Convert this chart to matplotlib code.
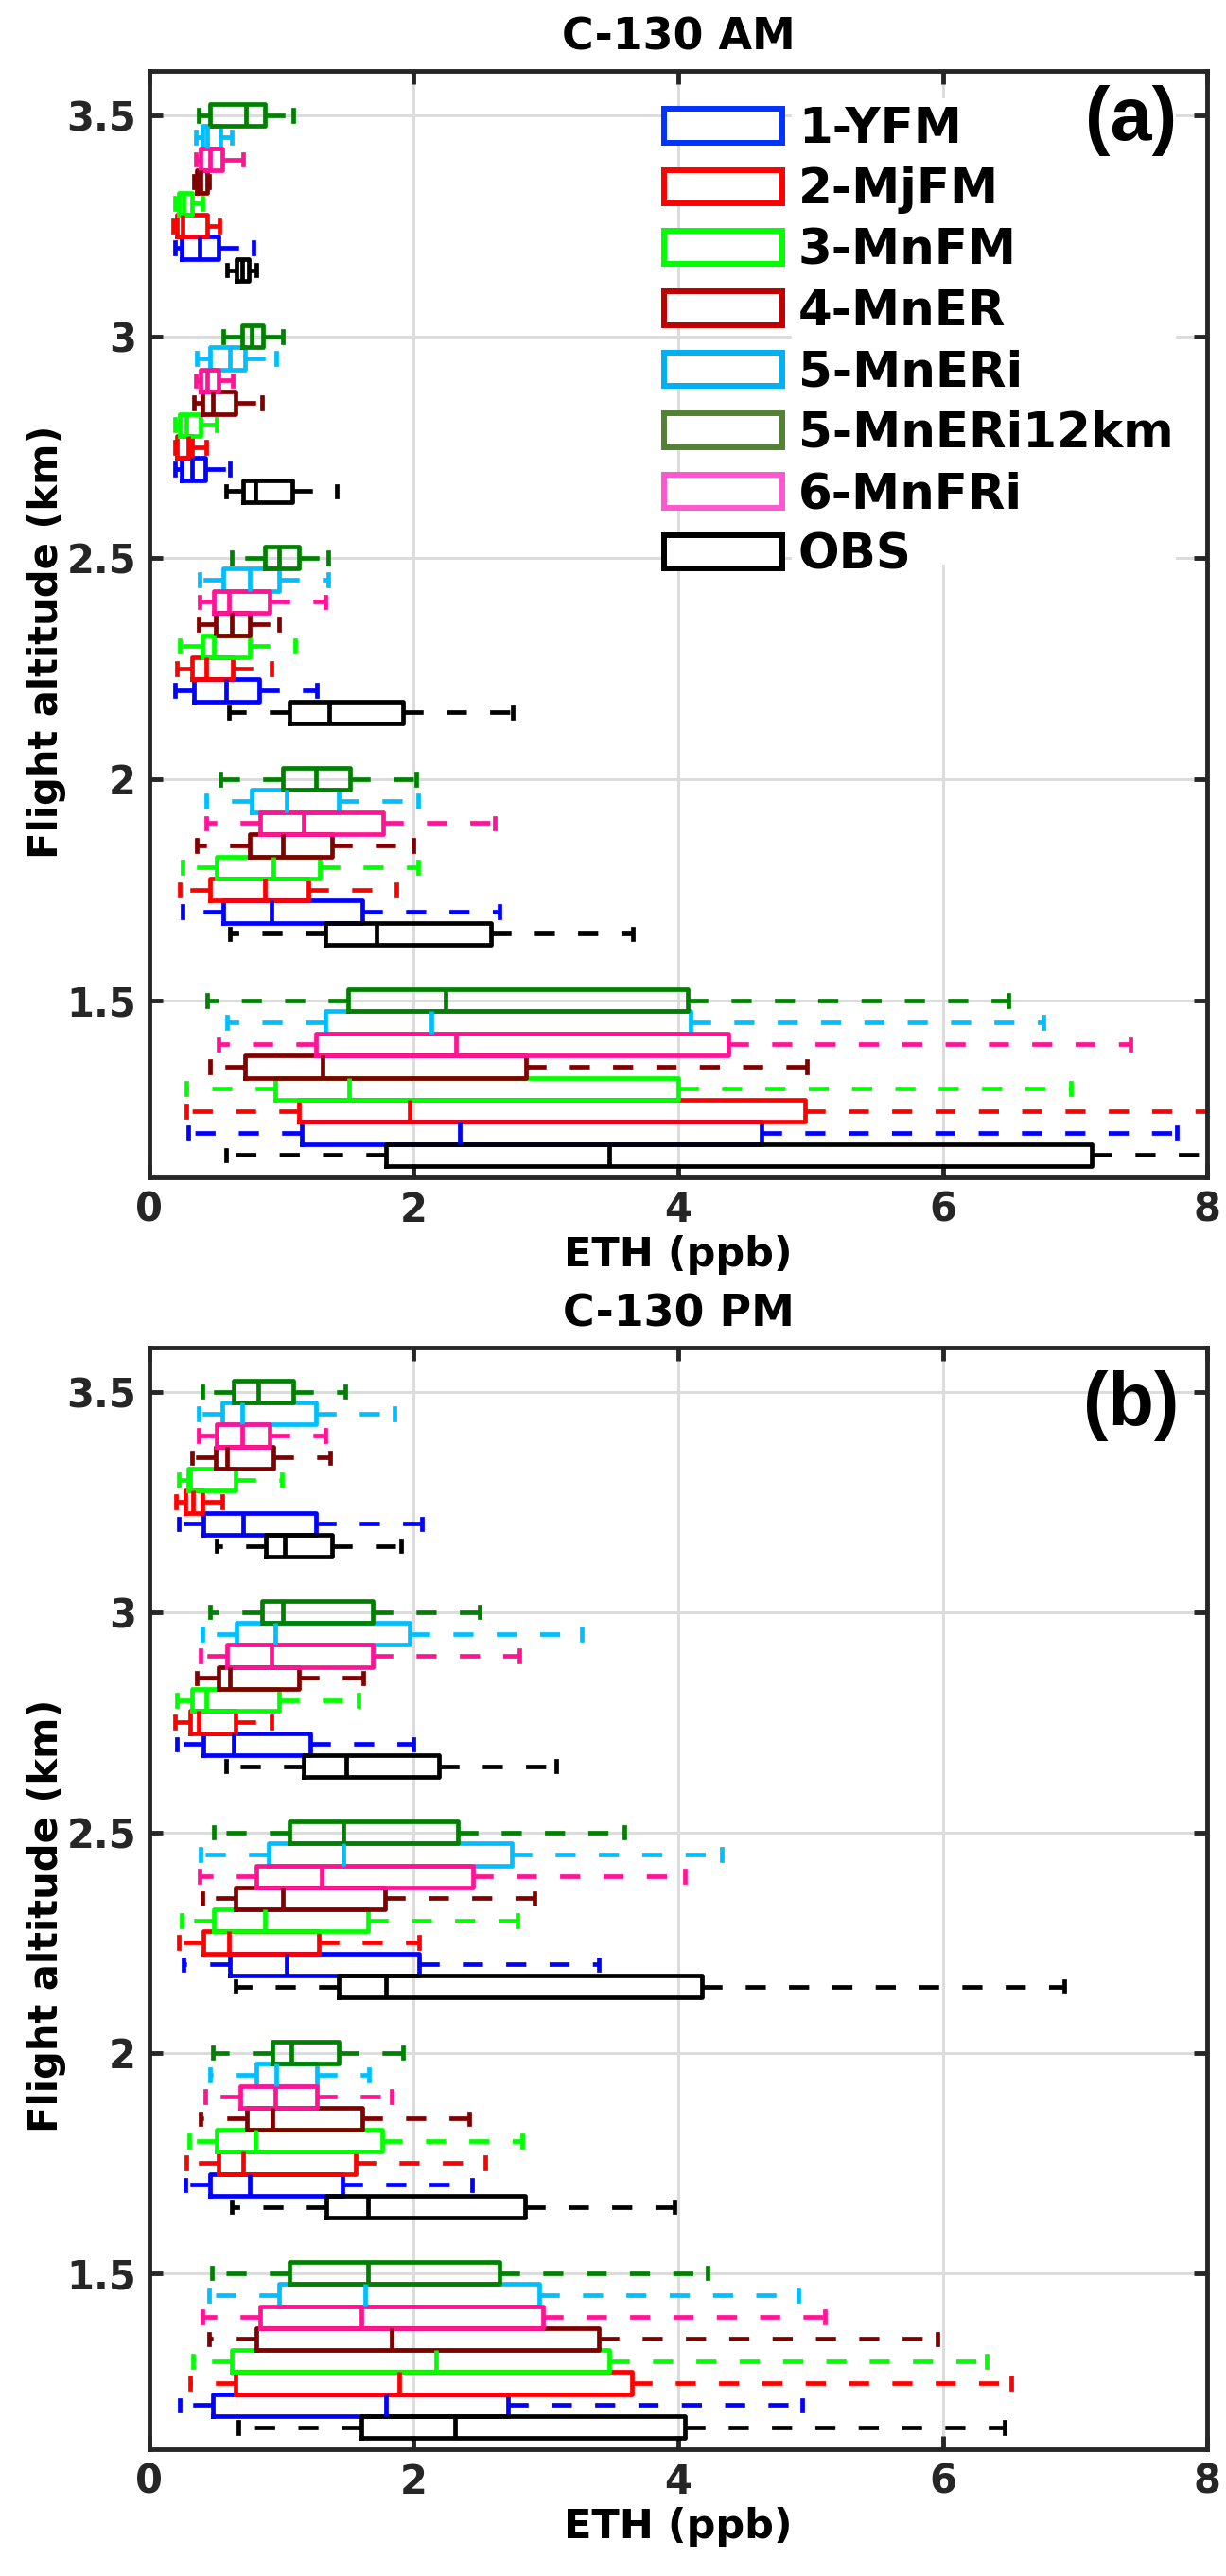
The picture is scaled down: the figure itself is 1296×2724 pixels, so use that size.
import matplotlib
matplotlib.use("Agg")
import matplotlib.pyplot as plt
from matplotlib.patches import Patch, Rectangle

# ---------------- data ----------------
models = ["1-YFM", "2-MjFM", "3-MnFM", "4-MnER", "5-MnERi", "5-MnERi12km", "6-MnFRi", "OBS"]
altitudes = [1.5, 2.0, 2.5, 3.0, 3.5]
xticks = [0, 2, 4, 6, 8]
yticks = [1.5, 2, 2.5, 3, 3.5]
ytick_labels = ["1.5", "2", "2.5", "3", "3.5"]

# AM (panel a): rows = models, columns = altitudes
am_lo = [[0.29, 0.25, 0.19, 0.19, 0.19],
         [0.28, 0.23, 0.21, 0.19, 0.18],
         [0.28, 0.25, 0.23, 0.19, 0.19],
         [0.46, 0.36, 0.37, 0.34, 0.34],
         [0.59, 0.43, 0.38, 0.36, 0.35],
         [0.44, 0.54, 0.62, 0.56, 0.37],
         [0.52, 0.43, 0.38, 0.35, 0.35],
         [0.58, 0.61, 0.60, 0.58, 0.59]]
am_q1 = [[1.15, 0.56, 0.34, 0.24, 0.24],
         [1.13, 0.46, 0.32, 0.21, 0.21],
         [0.95, 0.51, 0.40, 0.23, 0.22],
         [0.72, 0.76, 0.50, 0.40, 0.36],
         [1.33, 0.77, 0.56, 0.46, 0.40],
         [1.50, 1.01, 0.87, 0.70, 0.46],
         [1.26, 0.84, 0.49, 0.39, 0.39],
         [1.79, 1.33, 1.06, 0.71, 0.66]]
am_med = [[2.35, 0.92, 0.58, 0.32, 0.38],
          [1.97, 0.87, 0.43, 0.29, 0.25],
          [1.51, 0.94, 0.49, 0.28, 0.26],
          [1.31, 1.01, 0.62, 0.48, 0.39],
          [2.13, 1.04, 0.76, 0.61, 0.44],
          [2.24, 1.26, 0.98, 0.77, 0.73],
          [2.32, 1.17, 0.60, 0.44, 0.46],
          [3.48, 1.72, 1.36, 0.80, 0.70]]
am_q3 = [[4.63, 1.61, 0.83, 0.42, 0.52],
         [4.96, 1.20, 0.63, 0.32, 0.44],
         [4.00, 1.29, 0.76, 0.39, 0.32],
         [2.85, 1.38, 0.76, 0.65, 0.44],
         [4.09, 1.43, 0.98, 0.72, 0.54],
         [4.07, 1.52, 1.13, 0.86, 0.87],
         [4.38, 1.77, 0.91, 0.52, 0.55],
         [7.13, 2.58, 1.92, 1.08, 0.75]]
am_hi = [[7.77, 2.65, 1.27, 0.61, 0.79],
         [8.40, 1.87, 0.92, 0.43, 0.53],
         [6.97, 2.03, 1.10, 0.51, 0.40],
         [4.97, 2.00, 0.98, 0.85, 0.45],
         [6.76, 2.03, 1.35, 0.96, 0.62],
         [6.50, 2.02, 1.35, 1.01, 1.09],
         [7.42, 2.61, 1.33, 0.63, 0.71],
         [8.60, 3.66, 2.75, 1.42, 0.81]]

# PM (panel b)
pm_lo = [[0.23, 0.27, 0.26, 0.21, 0.22],
         [0.31, 0.28, 0.22, 0.19, 0.20],
         [0.33, 0.30, 0.24, 0.21, 0.22],
         [0.45, 0.39, 0.40, 0.36, 0.32],
         [0.45, 0.46, 0.39, 0.40, 0.37],
         [0.47, 0.48, 0.49, 0.46, 0.40],
         [0.40, 0.42, 0.38, 0.39, 0.37],
         [0.67, 0.62, 0.65, 0.58, 0.51]]
pm_q1 = [[0.48, 0.46, 0.61, 0.41, 0.41],
         [0.65, 0.52, 0.41, 0.31, 0.27],
         [0.62, 0.51, 0.49, 0.32, 0.29],
         [0.81, 0.74, 0.65, 0.52, 0.50],
         [0.98, 0.81, 0.90, 0.66, 0.55],
         [1.06, 0.93, 1.06, 0.85, 0.64],
         [0.84, 0.69, 0.81, 0.59, 0.51],
         [1.60, 1.34, 1.43, 1.17, 0.88]]
pm_med = [[1.79, 0.76, 1.04, 0.64, 0.71],
          [1.89, 0.71, 0.60, 0.37, 0.33],
          [2.17, 0.80, 0.87, 0.43, 0.31],
          [1.83, 0.93, 1.01, 0.61, 0.59],
          [1.63, 0.96, 1.47, 0.95, 0.70],
          [1.65, 1.07, 1.47, 1.01, 0.82],
          [1.60, 0.95, 1.30, 0.92, 0.70],
          [2.31, 1.65, 1.79, 1.49, 1.02]]
pm_q3 = [[2.71, 1.46, 2.04, 1.22, 1.26],
         [3.65, 1.56, 1.28, 0.65, 0.40],
         [3.48, 1.76, 1.65, 0.98, 0.65],
         [3.40, 1.61, 1.78, 1.13, 0.94],
         [2.95, 1.27, 2.74, 1.97, 1.26],
         [2.65, 1.43, 2.33, 1.69, 1.09],
         [2.98, 1.27, 2.45, 1.69, 0.91],
         [4.05, 2.84, 4.18, 2.19, 1.38]]
pm_hi = [[4.94, 2.44, 3.40, 2.00, 2.06],
         [6.52, 2.54, 2.04, 0.92, 0.55],
         [6.33, 2.82, 2.78, 1.58, 1.00],
         [5.96, 2.42, 2.91, 1.62, 1.37],
         [4.91, 1.66, 4.33, 3.27, 1.85],
         [4.22, 1.92, 3.59, 2.50, 1.48],
         [5.11, 1.83, 4.05, 2.80, 1.33],
         [6.47, 3.97, 6.92, 3.08, 1.90]]

# ---------------- style ----------------
plot_colors = ["#0000FF", "#FF0000", "#00FF00", "#800000", "#00BFFF", "#008000", "#FF1493", "#000000"]
legend_colors = ["#0033FF", "#FF0000", "#00FF00", "#C00000", "#00B0F0", "#548235", "#FF57CF", "#000000"]
offsets = [-0.30, -0.25, -0.20, -0.15, -0.05, 0.0, -0.10, -0.35]
AXC = "#262626"
LW = 3.4

plt.rcParams["font.family"] = ["DejaVu Sans"]
plt.rcParams["font.weight"] = "bold"

W, H = 1296, 2724
fig = plt.figure(figsize=(W / 100, H / 100), dpi=100)
ax_a = fig.add_axes([0.1219, 0.5430, 0.8627, 0.4295])
ax_b = fig.add_axes([0.1219, 0.0492, 0.8627, 0.4277])


def draw(ax, lo, q1, med, q3, hi, title, plabel, ply):
    for m in range(len(models)):
        c = plot_colors[m]
        stats = [dict(whislo=lo[m][k], q1=q1[m][k], med=med[m][k],
                      q3=q3[m][k], whishi=hi[m][k], fliers=[])
                 for k in range(len(altitudes))]
        pos = [a + offsets[m] for a in altitudes]
        ax.bxp(stats, positions=pos, widths=0.05, capwidths=0.025,
               orientation="horizontal", showfliers=False, manage_ticks=False,
               boxprops=dict(color=c, linewidth=LW),
               whiskerprops=dict(color=c, linewidth=LW, linestyle=(0, (4.5, 5.2))),
               capprops=dict(color=c, linewidth=LW),
               medianprops=dict(color=c, linewidth=LW))
    ax.set_xlim(0, 8)
    ax.set_ylim(1.1, 3.6)
    ax.set_xticks(xticks)
    ax.set_yticks(yticks)
    ax.set_xticklabels([str(t) for t in xticks])
    ax.set_yticklabels(ytick_labels)
    ax.set_axisbelow(True)
    ax.grid(True, color="#dcdcdc", linewidth=2.2)
    for s in ax.spines.values():
        s.set_color(AXC)
        s.set_linewidth(3.5)
    ax.tick_params(axis="both", which="both", direction="in", length=10, width=3.5,
                   color=AXC, labelcolor=AXC, labelsize=30, top=True, right=True)
    ax.tick_params(axis="x", pad=10)
    ax.tick_params(axis="y", pad=10)
    for lab in ax.get_xticklabels() + ax.get_yticklabels():
        lab.set_fontweight("bold")
    ax.set_xlabel("ETH (ppb)", fontsize=31, fontweight="bold", labelpad=4)
    ax.set_ylabel("Flight altitude (km)", fontsize=30, fontweight="bold")
    ax.yaxis.set_label_coords(-0.079, 0.484)
    ax.set_title(title, fontsize=33, fontweight="bold", pad=16)
    ax.text(0.928, ply, plabel, transform=ax.transAxes, ha="center", va="center",
            fontsize=57, fontweight="bold", family=["Liberation Sans", "DejaVu Sans"],
            zorder=10)


draw(ax_a, am_lo, am_q1, am_med, am_q3, am_hi, "C-130 AM", "(a)", 0.955)
draw(ax_b, pm_lo, pm_q1, pm_med, pm_q3, pm_hi, "C-130 PM", "(b)", 0.947)

# white backing behind the legend labels (hides the grid there, as in the original)
ax_a.add_patch(Rectangle((837 / W, 1 - 597 / H), (1243 - 837) / W, (597 - 104) / H,
                         transform=fig.transFigure, facecolor="white", edgecolor="none",
                         zorder=1))

handles = [Patch(facecolor="white", edgecolor=legend_colors[i], linewidth=4.3, label=models[i])
           for i in range(len(models))]
leg = ax_a.legend(handles=handles, loc="upper left", bbox_to_anchor=(702 / W, 0.9589),
                  bbox_transform=fig.transFigure, fontsize=37, frameon=False,
                  handlelength=2.44, handleheight=0.68, handletextpad=0.32,
                  labelspacing=0.28, borderpad=0.0, borderaxespad=0.0)
leg.set_zorder(5)
for t in leg.get_texts():
    t.set_fontweight("bold")

fig.savefig("out.png", dpi=100, facecolor="white")
